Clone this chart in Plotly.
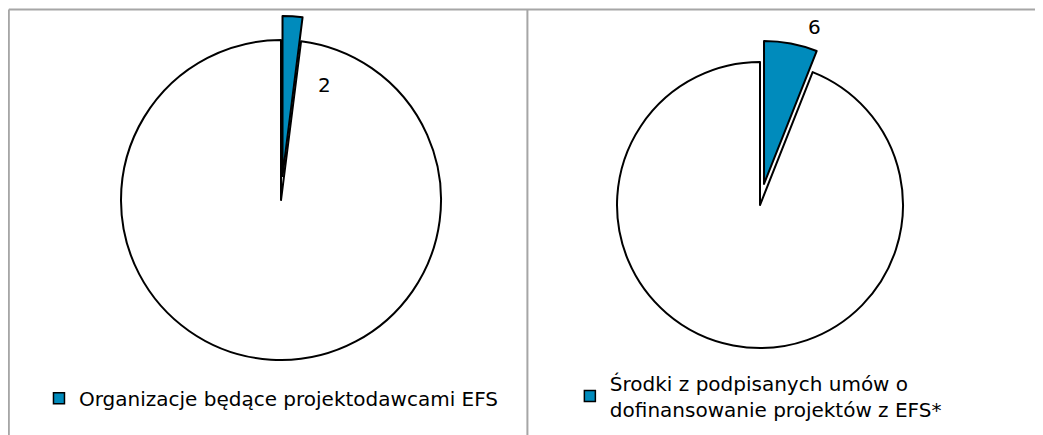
import plotly.graph_objects as go

# data
labels = ["EFS", "Pozostałe"]
org_values = [2, 98]
funds_values = [6, 94]
legend_org = "Organizacje będące projektodawcami EFS"
legend_funds = "Środki z podpisanych umów o<br>dofinansowanie projektów z EFS*"

BLUE = "#008BBC"
FONT = "DejaVu Sans, Verdana, sans-serif"

fig = go.Figure()

fig.add_trace(go.Pie(labels=labels, values=org_values, sort=False,
                     direction="clockwise", rotation=0,
                     pull=[0.15, 0],
                     marker=dict(colors=[BLUE, "white"],
                                 line=dict(color="black", width=2)),
                     textinfo="none",
                     domain=dict(x=[0.0853, 0.4382], y=[0.1356, 0.9816]),
                     showlegend=False, hoverinfo="label+value"))

fig.add_trace(go.Pie(labels=labels, values=funds_values, sort=False,
                     direction="clockwise", rotation=0,
                     pull=[0.15, 0],
                     marker=dict(colors=[BLUE, "white"],
                                 line=dict(color="black", width=2)),
                     textinfo="none",
                     domain=dict(x=[0.5633, 0.8787], y=[0.169, 0.925]),
                     showlegend=False, hoverinfo="label+value"))

# value labels of the highlighted slices
fig.add_annotation(text=str(org_values[0]), x=0.3039, y=0.823,
                   xref="paper", yref="paper", showarrow=False,
                   xanchor="center", yanchor="middle", font=dict(size=20))
fig.add_annotation(text=str(funds_values[0]), x=0.7737, y=0.9563,
                   xref="paper", yref="paper", showarrow=False,
                   xanchor="center", yanchor="middle", font=dict(size=20))

# legend entries (only the blue slice is listed)
for name, leg in [(legend_org, "legend"), (legend_funds, "legend2")]:
    fig.add_trace(go.Scatter(x=[None], y=[None], mode="markers", name=name,
                             legend=leg,
                             marker=dict(symbol="square", size=11, color=BLUE,
                                         line=dict(color="black", width=1.5))))

frame = dict(type="line", xref="paper", yref="paper",
             line=dict(color="#A6A6A6", width=2))
fig.add_shape(frame, x0=0.0008, x1=1, y0=0.9966, y1=0.9966)
fig.add_shape(frame, x0=0.0008, x1=0.0008, y0=0, y1=0.9966)
fig.add_shape(frame, x0=0.498, x1=0.498, y0=0, y1=0.9966)

fig.update_layout(
    width=1043, height=435,
    margin=dict(l=0, r=0, t=0, b=0, autoexpand=False),
    paper_bgcolor="white", plot_bgcolor="white",
    xaxis=dict(visible=False), yaxis=dict(visible=False),
    font=dict(family=FONT, size=20, color="black"),
    legend=dict(x=0.0297, y=0.103, xanchor="left", yanchor="middle",
                bgcolor="rgba(0,0,0,0)", itemwidth=30,
                font=dict(size=20)),
    legend2=dict(x=0.5387, y=0.108, xanchor="left", yanchor="middle",
                 bgcolor="rgba(0,0,0,0)", itemwidth=30,
                 font=dict(size=20)),
)

fig.write_html("out.html")
